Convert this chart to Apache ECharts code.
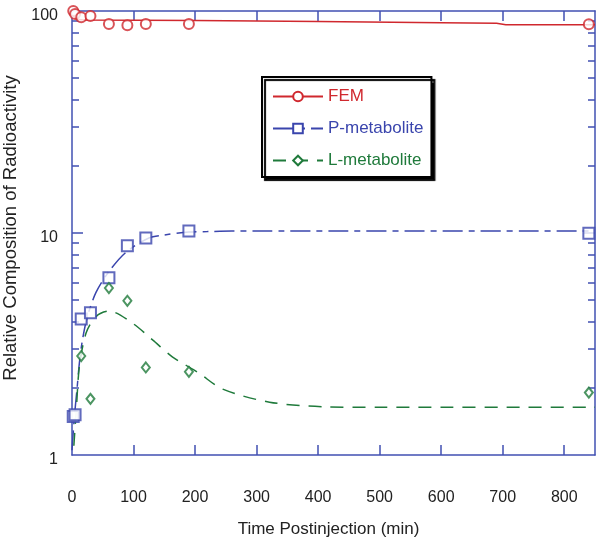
<!DOCTYPE html>
<html><head><meta charset="utf-8">
<script src="https://cdn.jsdelivr.net/npm/echarts@6/dist/echarts.min.js"></script>
<style>html,body{margin:0;padding:0;background:#fff}#c{width:604px;height:545px}</style>
</head><body><div id="c"></div>
<script>
// ---- data ----
const seriesNames = ['FEM', 'P-metabolite', 'L-metabolite'];
const femTimes = [2, 5, 15, 30, 60, 90, 120, 190, 840];
const femValues = [100, 96.9, 93.7, 95, 87.4, 86.2, 87.4, 87.4, 87.1];
const pTimes = [2, 5, 15, 30, 60, 90, 120, 190, 840];
const pValues = [1.49, 1.52, 4.1, 4.37, 6.29, 8.77, 9.5, 10.2, 9.97];
const lTimes = [15, 30, 60, 90, 120, 190, 840];
const lValues = [2.79, 1.79, 5.65, 4.95, 2.48, 2.37, 1.91];
// fitted curves
const femFitTimes = [0, 5, 10, 20, 200, 400, 600, 690, 705, 850];
const femFitValues = [97, 93, 91.5, 91, 90.6, 89.6, 88.6, 88.1, 86.8, 86.8];
const pFitTimes = [0, 4, 8, 12, 17, 25, 39, 60, 88, 125, 150, 190, 220, 260, 850];
const pFitValues = [1.05, 1.5, 1.96, 2.6, 3.3, 4.2, 5.4, 6.7, 8.2, 9.5, 9.8, 10.1, 10.15, 10.2, 10.2];
const lFitTimes = [3, 7, 12, 23, 39, 60, 98, 131, 163, 206, 245, 321, 408, 500, 850];
const lFitValues = [1.1, 1.6, 2.5, 3.55, 4.2, 4.45, 3.93, 3.3, 2.77, 2.34, 1.98, 1.73, 1.65, 1.64, 1.64];
// axes
const xLabelValues = [0, 100, 200, 300, 400, 500, 600, 700, 800];
const xTickValues = [100, 200, 300, 400, 500, 600, 700, 800];
const yLabelValues = [1, 10, 100];
const yMinorTickValues = [2, 3, 4, 5, 6, 7, 8, 9, 20, 30, 40, 50, 60, 70, 80, 90];

const zip = (a, b) => a.map((v, i) => [v, b[i]]);
const RED = '#d0282e', BLUE = '#3a45ad', GREEN = '#1f7a3b', AXIS = '#4150b2';
const FONT = '"Liberation Sans", Arial, sans-serif';
const colors = [RED, BLUE, GREEN];

const baseX = {
  type: 'value', min: 0, max: 850, splitLine: { show: false },
  axisLine: { show: true, onZero: false, lineStyle: { color: AXIS, width: 1.5 } },
  axisTick: { show: true, inside: true, length: 10, customValues: xTickValues, lineStyle: { color: AXIS, width: 1.5 } }
};
const baseY = {
  type: 'log', logBase: 10, min: 1, max: 100, splitLine: { show: false }, minorTick: { show: false },
  axisLine: { show: true, onZero: false, lineStyle: { color: AXIS, width: 1.5 } },
  axisTick: { show: true, inside: true, length: 11, customValues: [10], lineStyle: { color: AXIS, width: 1.5 } },
  axisLabel: { show: false }
};
const minorY = (pos) => Object.assign({}, baseY, {
  position: pos,
  axisLine: { show: false, onZero: false },
  axisTick: { show: true, inside: true, length: 7, customValues: yMinorTickValues, lineStyle: { color: AXIS, width: 1.5 } }
});

const chart = echarts.init(document.getElementById('c'), null, { renderer: 'canvas' });
chart.setOption({
  animation: false,
  backgroundColor: '#fff',
  textStyle: { fontFamily: FONT },
  grid: { left: 72, right: 9, top: 11, bottom: 90, containLabel: false, outerBoundsMode: 'none' },
  xAxis: [
    Object.assign({}, baseX, {
      position: 'bottom',
      axisLabel: { show: true, customValues: xLabelValues, margin: 35, fontSize: 16, color: '#222', fontFamily: FONT },
      name: 'Time Postinjection (min)', nameLocation: 'middle', nameGap: 66,
      nameTextStyle: { fontSize: 17, color: '#222', fontFamily: FONT, padding: [0, 10, 0, 0] }
    }),
    Object.assign({}, baseX, { position: 'top', axisLabel: { show: false } })
  ],
  yAxis: [
    Object.assign({}, baseY, {
      position: 'left',
      axisLabel: {
        show: true, customValues: yLabelValues, margin: 14, color: '#222', fontFamily: FONT,
        formatter: (v) => '{a|' + v + '}',
        rich: { a: { fontSize: 16, color: '#222', fontFamily: FONT, padding: [10, 0, 0, 0] } }
      },
      name: 'Relative Composition of Radioactivity', nameLocation: 'middle', nameGap: 47, nameRotate: 90,
      nameTextStyle: { fontSize: 18.5, color: '#222', fontFamily: FONT, padding: [0, 0, 0, 10] }
    }),
    minorY('left'),
    Object.assign({}, baseY, { position: 'right' }),
    minorY('right')
  ],
  legend: {
    orient: 'vertical', left: 262, top: 77,
    itemWidth: 50, itemHeight: 12, itemGap: 15,
    padding: [11, 8, 8, 10],
    backgroundColor: '#fff', borderColor: '#000', borderWidth: 2,
    shadowColor: '#000', shadowOffsetX: 3, shadowOffsetY: 3, shadowBlur: 1,
    selectedMode: false,
    textStyle: { fontSize: 17, fontFamily: FONT },
    data: seriesNames.map((n, i) => ({ name: n, textStyle: { color: colors[i] } }))
  },
  series: [
    { name: seriesNames[0], type: 'line', data: zip(femFitTimes, femFitValues), symbol: 'emptyCircle', showSymbol: false,
      lineStyle: { color: RED, width: 1.5, type: 'solid' }, itemStyle: { color: RED }, z: 2 },
    { name: seriesNames[1], type: 'line', data: zip(pFitTimes, pFitValues), symbol: 'emptyRect', showSymbol: false, smooth: 0.3,
      lineStyle: { color: BLUE, width: 1.5, type: [20, 6, 6, 6] }, itemStyle: { color: BLUE }, z: 2 },
    { name: seriesNames[2], type: 'line', data: zip(lFitTimes, lFitValues), symbol: 'emptyDiamond', showSymbol: false, smooth: 0.3,
      lineStyle: { color: GREEN, width: 1.5, type: [13, 9] }, itemStyle: { color: GREEN }, z: 2 },
    { name: seriesNames[0], type: 'scatter', data: zip(femTimes, femValues), symbol: 'emptyCircle', symbolSize: 10,
      itemStyle: { color: RED }, clip: false, z: 3 },
    { name: seriesNames[1], type: 'scatter', data: zip(pTimes, pValues), symbol: 'emptyRect', symbolSize: 11,
      itemStyle: { color: BLUE }, clip: false, z: 3 },
    { name: seriesNames[2], type: 'scatter', data: zip(lTimes, lValues), symbol: 'emptyDiamond', symbolSize: [8, 10],
      itemStyle: { color: GREEN }, clip: false, z: 3 }
  ]
});
</script>
</body></html>
